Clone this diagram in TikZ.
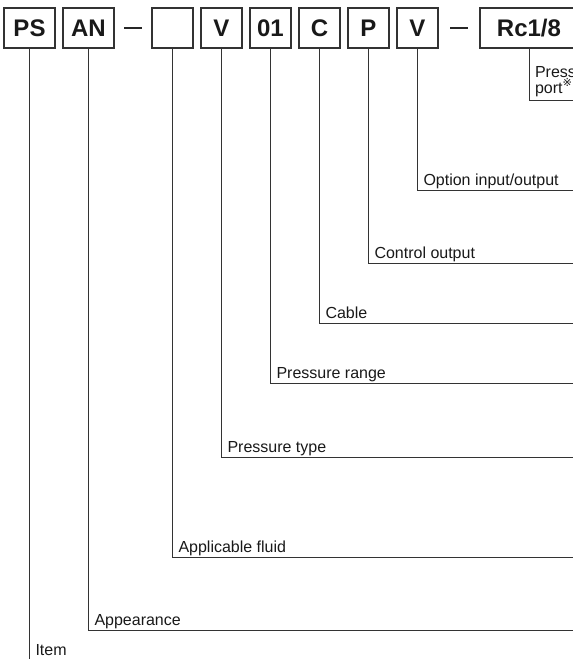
\documentclass[tikz,border=0pt]{standalone}
\usepackage{fontspec}
\setmainfont{Liberation Sans}
\newfontfamily\markfont{DejaVu Sans}
\usetikzlibrary{positioning}
\tikzstyle{codebox} = [draw=black!80, line width=1.1pt, outer sep=0pt, inner sep=0pt, minimum width=41pt, minimum height=40pt, font=\fontsize{24}{24}\selectfont\bfseries, text=black!90]
\tikzstyle{widebox} = [codebox, minimum width=51pt]
\tikzstyle{hyph} = [inner sep=0pt, outer sep=0pt, text=black!85]
\tikzstyle{conn} = [draw=black!80, line width=1pt]
\tikzstyle{desc} = [inner sep=0pt, outer sep=0pt, text depth=0pt, anchor=south west, align=left, font=\fontsize{16}{16}\selectfont, text=black!90]

\begin{document}
\begin{tikzpicture}[x=1pt, y=1pt, node distance=8pt]
	\useasboundingbox (0,0) rectangle (573,-659);
	\clip (0,0) rectangle (573,-659);

	% code boxes
	\node[widebox] (ps) at (29.5,-28) {PS};
	\node[widebox, right=8pt of ps] (an) {AN};
	\node[hyph, right=10pt of an] (d1) {\rule{18pt}{2.5pt}};
	\node[codebox, right=10pt of d1] (blank) {};
	\node[codebox, right= of blank] (vtype) {V};
	\node[codebox, right= of vtype] (range) {01};
	\node[codebox, right= of range] (cable) {C};
	\node[codebox, right= of cable] (output) {P};
	\node[codebox, right= of output] (option) {V};
	\node[hyph, right=12pt of option] (d2) {\rule{18pt}{2.5pt}};
	\node[codebox, minimum width=98pt, right=12pt of d2] (port) {Rc1/8};

	% ends at the right edge
	\coordinate (eport) at (575,-100);
	\coordinate (eoption) at (575,-190);
	\coordinate (eoutput) at (575,-263);
	\coordinate (ecable) at (575,-323);
	\coordinate (erange) at (575,-383);
	\coordinate (etype) at (575,-457);
	\coordinate (efluid) at (575,-557);
	\coordinate (elook) at (575,-630);
	\coordinate (eitem) at (ps.south |- 0,-659);

	\draw[conn] (port.south) |- (eport);
	\draw[conn] (option.south) |- (eoption);
	\draw[conn] (output.south) |- (eoutput);
	\draw[conn] (cable.south) |- (ecable);
	\draw[conn] (range.south) |- (erange);
	\draw[conn] (vtype.south) |- (etype);
	\draw[conn] (blank.south) |- (efluid);
	\draw[conn] (an.south) |- (elook);
	\draw[conn] (ps.south) -- (eitem);

	% corners
	\coordinate (cport) at (port.south |- eport);
	\coordinate (coption) at (option.south |- eoption);
	\coordinate (coutput) at (output.south |- eoutput);
	\coordinate (ccable) at (cable.south |- ecable);
	\coordinate (crange) at (range.south |- erange);
	\coordinate (ctype) at (vtype.south |- etype);
	\coordinate (cfluid) at (blank.south |- efluid);
	\coordinate (clook) at (an.south |- elook);

	\node[desc, above right=7pt and 6pt of cport] (tport) {Pressure\\port\textsuperscript{\markfont ※1}};
	\node[desc, above right=4.5pt and 6pt of coption] (toption) {Option input/output};
	\node[desc, above right=4.5pt and 6pt of coutput] (toutput) {Control output};
	\node[desc, above right=4.5pt and 6pt of ccable] (tcable) {Cable};
	\node[desc, above right=4.5pt and 6pt of crange] (trange) {Pressure range};
	\node[desc, above right=4.5pt and 6pt of ctype] (ttype) {Pressure type};
	\node[desc, above right=4.5pt and 6pt of cfluid] (tfluid) {Applicable fluid};
	\node[desc, above right=4.5pt and 6pt of clook] (tlook) {Appearance};
	\node[desc, above right=4pt and 6pt of eitem] (titem) {Item};

\end{tikzpicture}
\end{document}
